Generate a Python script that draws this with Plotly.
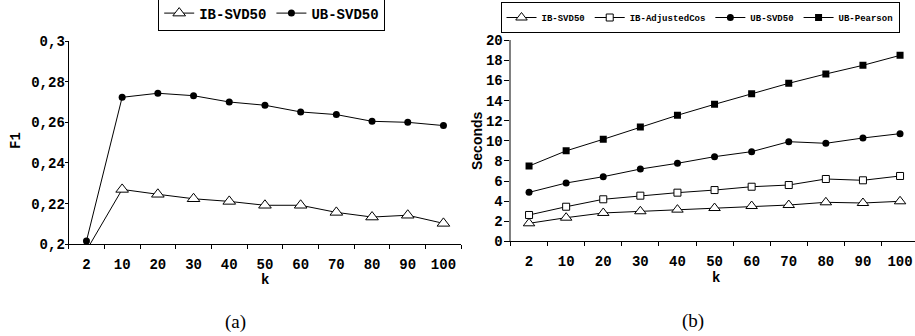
import plotly.graph_objects as go

# ---------------- data ----------------
k_labels = ["2", "10", "20", "30", "40", "50", "60", "70", "80", "90", "100"]

f1_ib_svd50 = [0.197, 0.2270, 0.2246, 0.2224, 0.2211, 0.2192, 0.2192, 0.2157, 0.2134, 0.2143, 0.2103]
f1_ub_svd50 = [0.2016, 0.2723, 0.2743, 0.2731, 0.2700, 0.2684, 0.2651, 0.2638, 0.2605, 0.2600, 0.2584]

sec_ib_svd50 = [1.79, 2.35, 2.82, 2.99, 3.15, 3.31, 3.51, 3.61, 3.88, 3.81, 3.98]
sec_ib_adjcos = [2.62, 3.44, 4.18, 4.54, 4.84, 5.10, 5.43, 5.60, 6.20, 6.07, 6.50]
sec_ub_svd50 = [4.87, 5.80, 6.43, 7.19, 7.76, 8.42, 8.92, 9.91, 9.75, 10.28, 10.71]
sec_ub_pearson = [7.49, 9.00, 10.15, 11.37, 12.54, 13.63, 14.69, 15.72, 16.65, 17.51, 18.50]

f1_ticks = [0.2, 0.22, 0.24, 0.26, 0.28, 0.3]
f1_ticktext = ["0,2", "0,22", "0,24", "0,26", "0,28", "0,3"]
sec_ticks = [0, 2, 4, 6, 8, 10, 12, 14, 16, 18, 20]

MONO = "Liberation Mono, Courier New, monospace"
SANS = "Liberation Sans, Arial, sans-serif"
SERIF = "Liberation Serif, DejaVu Serif, serif"
W, H = 915, 336

fig = go.Figure()

line = dict(color="black", width=1)
tri = dict(symbol="triangle-up", size=11, color="white", line=dict(color="black", width=1))
circ = dict(symbol="circle", size=7, color="black", line=dict(color="black", width=0))
sq_open = dict(symbol="square", size=7, color="white", line=dict(color="black", width=1))
sq_fill = dict(symbol="square", size=7, color="black", line=dict(color="black", width=0))

# panel (a)
fig.add_trace(go.Scatter(x=k_labels, y=f1_ib_svd50, name="IB-SVD50", mode="lines+markers",
                         line=line, marker=tri, xaxis="x", yaxis="y", legend="legend"))
fig.add_trace(go.Scatter(x=k_labels, y=f1_ub_svd50, name="UB-SVD50", mode="lines+markers",
                         line=line, marker=circ, xaxis="x", yaxis="y", legend="legend", cliponaxis=False))

# panel (b)
fig.add_trace(go.Scatter(x=k_labels, y=sec_ib_svd50, name="IB-SVD50", mode="lines+markers",
                         line=line, marker=dict(tri, size=10), xaxis="x2", yaxis="y2", legend="legend2"))
fig.add_trace(go.Scatter(x=k_labels, y=sec_ib_adjcos, name="IB-AdjustedCos", mode="lines+markers",
                         line=line, marker=sq_open, xaxis="x2", yaxis="y2", legend="legend2"))
fig.add_trace(go.Scatter(x=k_labels, y=sec_ub_svd50, name="UB-SVD50", mode="lines+markers",
                         line=line, marker=circ, xaxis="x2", yaxis="y2", legend="legend2"))
fig.add_trace(go.Scatter(x=k_labels, y=sec_ub_pearson, name="UB-Pearson", mode="lines+markers",
                         line=line, marker=sq_fill, xaxis="x2", yaxis="y2", legend="legend2"))

tickfont = dict(family=MONO, size=14, color="black", weight="bold")

xcommon = dict(type="category", categoryorder="array", categoryarray=k_labels,
               showgrid=False, zeroline=False, showline=True, linecolor="black", linewidth=1,
               ticks="outside", tickson="boundaries", ticklen=4, tickcolor="black",
               tickfont=tickfont, ticklabelstandoff=7, automargin=False)

fig.update_layout(
    width=W, height=H, autosize=False,
    margin=dict(l=0, r=0, t=0, b=0, pad=0, autoexpand=False),
    paper_bgcolor="white", plot_bgcolor="white",
    showlegend=True,
    xaxis=dict(xcommon, domain=[68.6 / W, 461.3 / W], range=[-0.5, 10.5], anchor="y"),
    yaxis=dict(domain=[1 - 244.3 / H, 1 - 41 / H], range=[0.2, 0.3], anchor="x",
               tickvals=f1_ticks, ticktext=f1_ticktext, tickfont=tickfont, automargin=False,
               showgrid=False, zeroline=False, showline=True, linecolor="black", linewidth=1,
               ticks="outside", ticklen=3, tickcolor="black", ticklabelstandoff=-3),
    xaxis2=dict(xcommon, domain=[510.5 / W, 1.0], range=[-0.5, 10.403], anchor="y2"),
    yaxis2=dict(domain=[1 - 241.3 / H, 1 - 40.3 / H], range=[0, 20], anchor="x2",
                tickvals=sec_ticks, tickfont=tickfont, automargin=False,
                showgrid=False, zeroline=False, showline=True, linecolor="#808080", linewidth=2,
                ticks="outside", ticklen=5, tickcolor="black", ticklabelstandoff=-2),
    legend=dict(orientation="h", x=271.7 / W, y=1 - 13.5 / H, xanchor="center", yanchor="middle",
                bordercolor="black", borderwidth=1, bgcolor="white", itemwidth=30,
                font=dict(family=MONO, size=14, color="black", weight="bold")),
    legend2=dict(orientation="h", x=700 / W, y=1 - 17.5 / H, xanchor="center", yanchor="middle",
                 bordercolor="black", borderwidth=1, bgcolor="white", itemwidth=30,
                 font=dict(family=MONO, size=9, color="black", weight="bold")),
)

annotations = [
    dict(text="F1", x=16 / W, y=1 - 141 / H, textangle=-90,
         font=dict(family=MONO, size=14, color="black", weight="bold")),
    dict(text="Seconds", x=477 / W, y=1 - 140 / H, textangle=-90,
         font=dict(family=SANS, size=14, color="black", weight="bold")),
    dict(text="k", x=264.9 / W, y=1 - 280 / H,
         font=dict(family=MONO, size=14, color="black", weight="bold")),
    dict(text="k", x=716 / W, y=1 - 278 / H,
         font=dict(family=MONO, size=14, color="black", weight="bold")),
    dict(text="(a)", x=235 / W, y=1 - 321.7 / H,
         font=dict(family=SERIF, size=19, color="black")),
    dict(text="(b)", x=693 / W, y=1 - 321 / H,
         font=dict(family=SERIF, size=19, color="black")),
]
for a in annotations:
    a.update(xref="paper", yref="paper", showarrow=False, xanchor="center", yanchor="middle")
fig.update_layout(annotations=annotations)

fig.write_html("out.html", config={"displayModeBar": False},
               post_script="document.body.style.margin='0';document.body.style.overflow='hidden';")
